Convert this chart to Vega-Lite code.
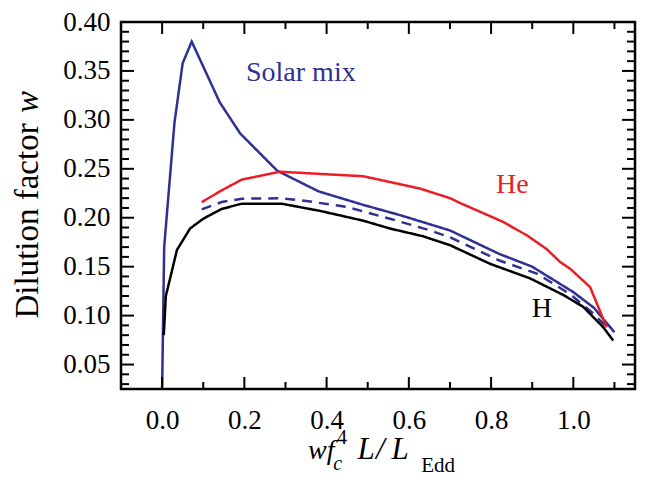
{
  "$schema": "https://vega.github.io/schema/vega-lite/v6.json",
  "width": 514,
  "height": 367,
  "autosize": {"type": "none"},
  "padding": {"left": 121, "top": 22, "right": 21, "bottom": 104},
  "background": "white",
  "config": {
    "view": {"stroke": "black", "strokeWidth": 2.5},
    "font": "Liberation Serif",
    "axis": {
      "domain": false,
      "ticks": false,
      "labelFont": "Liberation Serif",
      "labelFontSize": 27,
      "labelColor": "black",
      "grid": false,
      "labelFlush": false,
      "labelOverlap": false
    }
  },
  "datasets": {
    "curves": [
      {"series": "Solar mix", "x": 0.0, "y": 0.025},
      {"series": "Solar mix", "x": 0.005, "y": 0.17},
      {"series": "Solar mix", "x": 0.03, "y": 0.297},
      {"series": "Solar mix", "x": 0.05, "y": 0.358},
      {"series": "Solar mix", "x": 0.072, "y": 0.38},
      {"series": "Solar mix", "x": 0.14, "y": 0.318},
      {"series": "Solar mix", "x": 0.19, "y": 0.286},
      {"series": "Solar mix", "x": 0.28, "y": 0.248},
      {"series": "Solar mix", "x": 0.38, "y": 0.227},
      {"series": "Solar mix", "x": 0.49, "y": 0.213},
      {"series": "Solar mix", "x": 0.58, "y": 0.2025},
      {"series": "Solar mix", "x": 0.7, "y": 0.187},
      {"series": "Solar mix", "x": 0.82, "y": 0.163},
      {"series": "Solar mix", "x": 0.9, "y": 0.15},
      {"series": "Solar mix", "x": 1.0, "y": 0.124},
      {"series": "Solar mix", "x": 1.05, "y": 0.108},
      {"series": "Solar mix", "x": 1.1, "y": 0.083},
      {"series": "Solar mix (dashed)", "x": 0.0965, "y": 0.2086},
      {"series": "Solar mix (dashed)", "x": 0.145, "y": 0.216},
      {"series": "Solar mix (dashed)", "x": 0.194, "y": 0.2195},
      {"series": "Solar mix (dashed)", "x": 0.287, "y": 0.2198},
      {"series": "Solar mix (dashed)", "x": 0.336, "y": 0.218},
      {"series": "Solar mix (dashed)", "x": 0.449, "y": 0.211},
      {"series": "Solar mix (dashed)", "x": 0.554, "y": 0.199},
      {"series": "Solar mix (dashed)", "x": 0.652, "y": 0.187},
      {"series": "Solar mix (dashed)", "x": 0.7, "y": 0.18},
      {"series": "Solar mix (dashed)", "x": 0.822, "y": 0.156},
      {"series": "Solar mix (dashed)", "x": 0.911, "y": 0.143},
      {"series": "Solar mix (dashed)", "x": 0.992, "y": 0.122},
      {"series": "Solar mix (dashed)", "x": 1.049, "y": 0.102},
      {"series": "Solar mix (dashed)", "x": 1.089, "y": 0.085},
      {"series": "He", "x": 0.0965, "y": 0.216},
      {"series": "He", "x": 0.145, "y": 0.228},
      {"series": "He", "x": 0.194, "y": 0.239},
      {"series": "He", "x": 0.287, "y": 0.247},
      {"series": "He", "x": 0.489, "y": 0.2424},
      {"series": "He", "x": 0.554, "y": 0.2365},
      {"series": "He", "x": 0.627, "y": 0.2298},
      {"series": "He", "x": 0.7, "y": 0.22},
      {"series": "He", "x": 0.725, "y": 0.215},
      {"series": "He", "x": 0.83, "y": 0.1956},
      {"series": "He", "x": 0.887, "y": 0.182},
      {"series": "He", "x": 0.935, "y": 0.168},
      {"series": "He", "x": 0.968, "y": 0.1547},
      {"series": "He", "x": 0.992, "y": 0.148},
      {"series": "He", "x": 1.041, "y": 0.129},
      {"series": "He", "x": 1.081, "y": 0.088},
      {"series": "H", "x": 0.004, "y": 0.08},
      {"series": "H", "x": 0.009, "y": 0.12},
      {"series": "H", "x": 0.024, "y": 0.146},
      {"series": "H", "x": 0.036, "y": 0.167},
      {"series": "H", "x": 0.068, "y": 0.189},
      {"series": "H", "x": 0.1, "y": 0.199},
      {"series": "H", "x": 0.145, "y": 0.209},
      {"series": "H", "x": 0.194, "y": 0.2144},
      {"series": "H", "x": 0.29, "y": 0.2144},
      {"series": "H", "x": 0.384, "y": 0.207},
      {"series": "H", "x": 0.489, "y": 0.197},
      {"series": "H", "x": 0.554, "y": 0.189},
      {"series": "H", "x": 0.635, "y": 0.181},
      {"series": "H", "x": 0.7, "y": 0.172},
      {"series": "H", "x": 0.797, "y": 0.153},
      {"series": "H", "x": 0.895, "y": 0.138},
      {"series": "H", "x": 0.976, "y": 0.121},
      {"series": "H", "x": 1.024, "y": 0.109},
      {"series": "H", "x": 1.073, "y": 0.088},
      {"series": "H", "x": 1.097, "y": 0.0745}
    ],
    "labels": [
      {"label": "Solar mix", "series": "Solar mix", "x": 0.204, "y": 0.34},
      {"label": "He", "series": "He", "x": 0.812, "y": 0.225},
      {"label": "H", "series": "H", "x": 0.899, "y": 0.099}
    ],
    "xmajor": [{"v": 0}, {"v": 0.2}, {"v": 0.4}, {"v": 0.6}, {"v": 0.8}, {"v": 1.0}],
    "xminor": [{"v": -0.1}, {"v": 0.1}, {"v": 0.3}, {"v": 0.5}, {"v": 0.7}, {"v": 0.9}, {"v": 1.1}],
    "ymajor": [{"v": 0.05}, {"v": 0.1}, {"v": 0.15}, {"v": 0.2}, {"v": 0.25}, {"v": 0.3}, {"v": 0.35}, {"v": 0.4}],
    "yminor": [{"v": 0.03}, {"v": 0.04}, {"v": 0.06}, {"v": 0.07}, {"v": 0.08}, {"v": 0.09}, {"v": 0.11}, {"v": 0.12}, {"v": 0.13}, {"v": 0.14}, {"v": 0.16}, {"v": 0.17}, {"v": 0.18}, {"v": 0.19}, {"v": 0.21}, {"v": 0.22}, {"v": 0.23}, {"v": 0.24}, {"v": 0.26}, {"v": 0.27}, {"v": 0.28}, {"v": 0.29}, {"v": 0.31}, {"v": 0.32}, {"v": 0.33}, {"v": 0.34}, {"v": 0.36}, {"v": 0.37}, {"v": 0.38}, {"v": 0.39}]
  },
  "layer": [
    {
      "data": {"name": "curves"},
      "mark": {"type": "line", "strokeWidth": 2.5},
      "encoding": {
        "x": {
          "field": "x", "type": "quantitative",
          "scale": {"domain": [-0.1, 1.15], "nice": false, "zero": false},
          "axis": {
            "orient": "bottom", "title": null,
            "values": [0, 0.2, 0.4, 0.6, 0.8, 1.0],
            "format": ".1f", "labelPadding": 18,
            "labelFont": "Liberation Serif", "labelFontSize": 27
          }
        },
        "y": {
          "field": "y", "type": "quantitative",
          "scale": {"domain": [0.025, 0.4], "nice": false, "zero": false},
          "axis": {
            "orient": "left", "title": null,
            "values": [0.05, 0.1, 0.15, 0.2, 0.25, 0.3, 0.35, 0.4],
            "format": ".2f", "labelPadding": 11,
            "labelFont": "Liberation Serif", "labelFontSize": 27
          }
        },
        "color": {
          "field": "series", "type": "nominal",
          "scale": {"domain": ["Solar mix", "Solar mix (dashed)", "He", "H"], "range": ["#2E3192", "#2E3192", "#ED1C24", "#000000"]},
          "legend": null
        },
        "strokeDash": {
          "field": "series", "type": "nominal",
          "scale": {"domain": ["Solar mix", "Solar mix (dashed)", "He", "H"], "range": [[1, 0], [10, 7], [1, 0], [1, 0]]},
          "legend": null
        }
      }
    },
    {
      "data": {"name": "xmajor"},
      "mark": {"type": "tick", "orient": "vertical", "color": "black", "size": 12, "thickness": 2, "opacity": 1},
      "encoding": {"x": {"field": "v", "type": "quantitative"}, "y": {"datum": 0.0311, "type": "quantitative"}}
    },
    {
      "data": {"name": "xmajor"},
      "mark": {"type": "tick", "orient": "vertical", "color": "black", "size": 12, "thickness": 2, "opacity": 1},
      "encoding": {"x": {"field": "v", "type": "quantitative"}, "y": {"datum": 0.3939, "type": "quantitative"}}
    },
    {
      "data": {"name": "xminor"},
      "mark": {"type": "tick", "orient": "vertical", "color": "black", "size": 7, "thickness": 2, "opacity": 1},
      "encoding": {"x": {"field": "v", "type": "quantitative"}, "y": {"datum": 0.0286, "type": "quantitative"}}
    },
    {
      "data": {"name": "xminor"},
      "mark": {"type": "tick", "orient": "vertical", "color": "black", "size": 7, "thickness": 2, "opacity": 1},
      "encoding": {"x": {"field": "v", "type": "quantitative"}, "y": {"datum": 0.3964, "type": "quantitative"}}
    },
    {
      "data": {"name": "ymajor"},
      "mark": {"type": "tick", "orient": "horizontal", "color": "black", "size": 13, "thickness": 2, "opacity": 1},
      "encoding": {"y": {"field": "v", "type": "quantitative"}, "x": {"datum": -0.0842, "type": "quantitative"}}
    },
    {
      "data": {"name": "ymajor"},
      "mark": {"type": "tick", "orient": "horizontal", "color": "black", "size": 13, "thickness": 2, "opacity": 1},
      "encoding": {"y": {"field": "v", "type": "quantitative"}, "x": {"datum": 1.1342, "type": "quantitative"}}
    },
    {
      "data": {"name": "yminor"},
      "mark": {"type": "tick", "orient": "horizontal", "color": "black", "size": 8, "thickness": 2, "opacity": 1},
      "encoding": {"y": {"field": "v", "type": "quantitative"}, "x": {"datum": -0.0903, "type": "quantitative"}}
    },
    {
      "data": {"name": "yminor"},
      "mark": {"type": "tick", "orient": "horizontal", "color": "black", "size": 8, "thickness": 2, "opacity": 1},
      "encoding": {"y": {"field": "v", "type": "quantitative"}, "x": {"datum": 1.1403, "type": "quantitative"}}
    },
    {
      "data": {"name": "labels"},
      "mark": {"type": "text", "font": "Liberation Serif", "fontSize": 28, "align": "left", "baseline": "alphabetic"},
      "encoding": {
        "x": {"field": "x", "type": "quantitative"},
        "y": {"field": "y", "type": "quantitative"},
        "text": {"field": "label"},
        "color": {"field": "series", "type": "nominal", "legend": null}
      }
    },
    {
      "data": {"values": [{}]},
      "mark": {"type": "text", "text": "wf", "font": "Liberation Serif", "fontStyle": "italic", "fontSize": 28, "align": "left", "baseline": "alphabetic", "color": "black"},
      "encoding": {"x": {"datum": 0.355}, "y": {"datum": -0.0463}}
    },
    {
      "data": {"values": [{}]},
      "mark": {"type": "text", "text": "c", "font": "Liberation Serif", "fontStyle": "italic", "fontSize": 20, "align": "left", "baseline": "alphabetic", "color": "black"},
      "encoding": {"x": {"datum": 0.416}, "y": {"datum": -0.0575}}
    },
    {
      "data": {"values": [{}]},
      "mark": {"type": "text", "text": "4", "font": "Liberation Serif", "fontSize": 20, "align": "left", "baseline": "alphabetic", "color": "black"},
      "encoding": {"x": {"datum": 0.4255}, "y": {"datum": -0.031}}
    },
    {
      "data": {"values": [{}]},
      "mark": {"type": "text", "text": "L", "font": "Liberation Serif", "fontStyle": "italic", "fontSize": 31, "align": "left", "baseline": "alphabetic", "color": "black"},
      "encoding": {"x": {"datum": 0.475}, "y": {"datum": -0.0463}}
    },
    {
      "data": {"values": [{}]},
      "mark": {"type": "text", "text": "/", "font": "Liberation Serif", "fontStyle": "italic", "fontSize": 31, "align": "left", "baseline": "alphabetic", "color": "black"},
      "encoding": {"x": {"datum": 0.52}, "y": {"datum": -0.0463}}
    },
    {
      "data": {"values": [{}]},
      "mark": {"type": "text", "text": "L", "font": "Liberation Serif", "fontStyle": "italic", "fontSize": 31, "align": "left", "baseline": "alphabetic", "color": "black"},
      "encoding": {"x": {"datum": 0.558}, "y": {"datum": -0.0463}}
    },
    {
      "data": {"values": [{}]},
      "mark": {"type": "text", "text": "Edd", "font": "Liberation Serif", "fontSize": 21, "align": "left", "baseline": "alphabetic", "color": "black"},
      "encoding": {"x": {"datum": 0.63}, "y": {"datum": -0.0603}}
    },
    {
      "data": {"values": [{}]},
      "mark": {"type": "text", "text": "Dilution factor", "font": "Liberation Serif", "fontSize": 33, "angle": 270, "align": "left", "baseline": "alphabetic", "color": "black"},
      "encoding": {"x": {"datum": -0.3015}, "y": {"datum": 0.097}}
    },
    {
      "data": {"values": [{}]},
      "mark": {"type": "text", "text": "w", "font": "Liberation Serif", "fontStyle": "italic", "fontSize": 33, "angle": 270, "align": "left", "baseline": "alphabetic", "color": "black"},
      "encoding": {"x": {"datum": -0.3015}, "y": {"datum": 0.3069}}
    }
  ]
}
